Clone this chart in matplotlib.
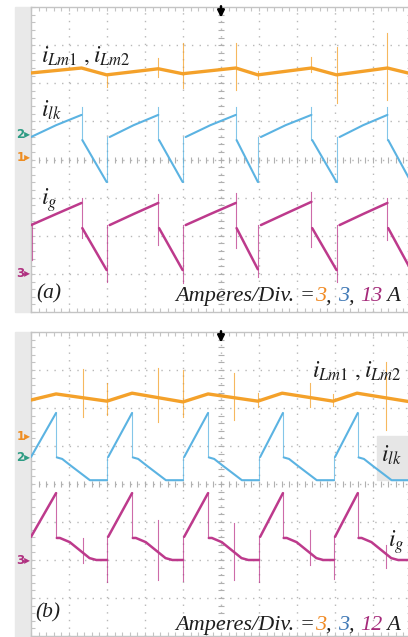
import numpy as np
import matplotlib
matplotlib.use("Agg")
import matplotlib.pyplot as plt
from matplotlib.patches import Rectangle

nan = np.nan
plt.rcParams["mathtext.fontset"] = "stix"

# Scope traces in screen divisions (x: 0..10 div, y: 0..8 div from bottom)
# ---- panel (a) ----
ilm_a_x = [0.0, 1.33, 1.99, 3.35, 3.99, 5.39, 5.97, 7.38, 8.04, 9.38, 10.0]
ilm_a_y = [6.27, 6.40, 6.22, 6.38, 6.25, 6.40, 6.22, 6.40, 6.22, 6.40, 6.25]
ilm_a_spikes = [(1.99, 5.90, 6.22), (3.35, 6.17, 6.67), (3.99, 5.88, 7.06),
                (5.39, 5.83, 7.06), (5.97, 6.12, 6.32), (7.38, 6.30, 6.69),
                (8.04, 5.49, 6.96), (9.38, 5.56, 7.32)]

ilk_a_x = [0.0, 0.66, 1.33, nan, 1.35, 1.99, nan,
           2.07, 2.70, 3.35, nan, 3.37, 3.99, nan,
           4.07, 4.72, 5.39, nan, 5.41, 5.97, nan,
           6.05, 6.70, 7.38, nan, 7.40, 8.04, nan,
           8.12, 8.74, 9.38, nan, 9.40, 10.0]
ilk_a_y = [4.59, 4.90, 5.17, nan, 4.51, 3.41, nan,
           4.59, 4.90, 5.17, nan, 4.51, 3.41, nan,
           4.59, 4.90, 5.17, nan, 4.51, 3.41, nan,
           4.59, 4.90, 5.17, nan, 4.51, 3.41, nan,
           4.59, 4.90, 5.17, nan, 4.51, 3.41]
ilk_a_edges = [(1.33, 4.51, 5.38), (1.99, 3.41, 4.59), (3.35, 4.51, 5.38),
               (3.99, 3.41, 4.59), (5.39, 4.51, 5.38), (5.97, 3.41, 4.59),
               (7.38, 4.51, 5.38), (8.04, 3.41, 4.59), (9.38, 4.51, 5.38)]

ig_a_x = ilk_a_x
ig_a_y = [2.28, 2.57, 2.86, nan, 2.20, 1.10, nan,
          2.28, 2.57, 2.86, nan, 2.20, 1.10, nan,
          2.28, 2.57, 2.86, nan, 2.20, 1.12, nan,
          2.28, 2.58, 2.89, nan, 2.20, 1.10, nan,
          2.28, 2.57, 2.86, nan, 2.20, 1.10]
ig_a_edges = [(0.02, 1.36, 2.30), (1.33, 1.95, 3.00), (1.99, 0.78, 2.28),
              (3.35, 1.75, 3.10), (3.99, 0.76, 2.28), (5.39, 1.68, 3.12),
              (5.97, 0.92, 2.28), (7.38, 1.70, 3.15), (8.04, 0.80, 2.28),
              (9.38, 1.90, 3.00)]

# ---- panel (b) ----
ilm_b_x = [0.0, 0.66, 2.0, 2.66, 4.0, 4.66, 5.97, 6.61, 7.95, 8.58, 10.0]
ilm_b_y = [6.21, 6.37, 6.18, 6.39, 6.16, 6.37, 6.18, 6.39, 6.18, 6.39, 6.16]
ilm_b_spikes = [(1.37, 5.76, 7.03), (2.0, 5.82, 6.66), (3.34, 5.63, 7.05),
                (4.0, 5.76, 7.00), (5.34, 5.68, 6.92), (5.97, 6.03, 6.39),
                (7.34, 6.03, 6.66), (7.95, 6.05, 6.37), (9.34, 5.42, 7.21)]

ilk_b_x = [0.0, 0.66, nan, 0.68, 0.82, 1.05, 1.55, 2.0, nan,
           2.03, 2.66, nan, 2.68, 2.82, 3.05, 3.55, 4.0, nan,
           4.03, 4.66, nan, 4.68, 4.82, 5.05, 5.55, 6.0, nan,
           6.03, 6.63, nan, 6.65, 6.79, 7.02, 7.52, 7.97, nan,
           8.0, 8.60, nan, 8.62, 8.76, 8.99, 9.49, 10.0]
ilk_b_y = [4.71, 5.87, nan, 4.70, 4.66, 4.48, 4.10, 4.10, nan,
           4.71, 5.87, nan, 4.70, 4.66, 4.48, 4.10, 4.10, nan,
           4.71, 5.87, nan, 4.70, 4.66, 4.48, 4.10, 4.10, nan,
           4.71, 5.87, nan, 4.70, 4.66, 4.48, 4.10, 4.10, nan,
           4.71, 5.87, nan, 4.70, 4.66, 4.48, 4.10, 4.10]
ilk_b_edges = [(0.66, 4.70, 5.87), (2.0, 4.10, 4.71), (2.66, 4.70, 5.87),
               (4.0, 4.10, 4.71), (4.66, 4.70, 5.87), (6.0, 4.10, 4.71),
               (6.63, 4.70, 5.87), (7.97, 4.10, 4.71), (8.60, 4.70, 5.87)]

ig_b_x = [0.0, 0.66, nan, 0.68, 0.76, 1.02, 1.54, 1.72, 2.0, nan,
          2.03, 2.66, nan, 2.68, 2.76, 3.02, 3.54, 3.72, 4.0, nan,
          4.03, 4.66, nan, 4.68, 4.76, 5.02, 5.54, 5.72, 6.0, nan,
          6.03, 6.63, nan, 6.65, 6.73, 6.99, 7.51, 7.69, 7.97, nan,
          8.0, 8.60, nan, 8.62, 8.70, 8.96, 9.48, 9.66, 10.0]
ig_b_y = [2.61, 3.76, nan, 2.58, 2.58, 2.47, 2.05, 2.00, 2.00, nan,
          2.61, 3.76, nan, 2.58, 2.58, 2.47, 2.05, 2.00, 2.00, nan,
          2.61, 3.76, nan, 2.58, 2.58, 2.47, 2.05, 2.00, 2.00, nan,
          2.61, 3.76, nan, 2.58, 2.58, 2.47, 2.05, 2.00, 2.00, nan,
          2.61, 3.76, nan, 2.58, 2.58, 2.47, 2.05, 2.00, 2.00]
ig_b_edges = [(0.66, 2.58, 3.76), (1.37, 1.92, 2.58), (2.0, 1.42, 2.61),
              (2.66, 2.58, 3.76), (3.34, 1.47, 3.05), (4.0, 1.45, 2.61),
              (4.66, 2.58, 3.76), (5.34, 1.47, 2.97), (6.0, 1.42, 2.61),
              (6.63, 2.58, 3.76), (7.34, 1.87, 2.79), (7.97, 1.50, 2.61),
              (8.60, 2.58, 3.76), (9.34, 1.80, 2.40)]

# channel ground markers (div) and scale settings
markers_a = [("1", 4.04), ("2", 4.65), ("3", 1.02)]
markers_b = [("1", 5.24), ("2", 4.71), ("3", 2.00)]
scales_a = ["3", "3", "13"]
scales_b = ["3", "3", "12"]

ORANGE = "#f4a12a"
BLUE = "#5bb3e2"
MAGENTA = "#bd3a8c"
MARK_COLORS = {"1": "#ee8d22", "2": "#2e9c84", "3": "#b03080"}
NUM_COLORS = ["#f08a24", "#3f78b5", "#a52a7a"]
TXT = "#1e1e1e"

W, H = 408, 637
fig = plt.figure(figsize=(W / 100, H / 100), dpi=100)
fig.patch.set_facecolor("white")


def px_rect(x0, y0, x1, y1, color):
    fig.patches.append(Rectangle((x0 / W, 1 - y1 / H), (x1 - x0) / W, (y1 - y0) / H,
                                 transform=fig.transFigure, color=color, zorder=-1))


def graticule(ax):
    ax.set_xlim(0, 10)
    ax.set_ylim(0, 8)
    ax.set_facecolor("white")
    for i in range(1, 10):
        ax.axvline(i, color="#b8b8b8", lw=1.0, ls=(0, (1, 4.5)), zorder=1)
    for j in range(1, 8):
        ax.axhline(j, color="#b8b8b8", lw=1.0, ls=(0, (1, 4.5)), zorder=1)
    ticks_y = np.arange(0.2, 8, 0.2)
    ticks_x = np.arange(0.2, 10, 0.2)
    ax.plot(np.full_like(ticks_y, 5), ticks_y, ls="none", marker="_", ms=4,
            color="#b0b0b0", mew=0.8, zorder=1)
    ax.plot(ticks_x, np.full_like(ticks_x, 4), ls="none", marker="|", ms=4,
            color="#b0b0b0", mew=0.8, zorder=1)
    for s in ax.spines.values():
        s.set_color("#c4c4c4")
        s.set_linewidth(1.0)
    ax.set_xticks(np.arange(0, 10.01, 0.2))
    ax.set_yticks(np.arange(0, 8.01, 0.2))
    ax.tick_params(direction="in", length=3, width=0.8, color="#c4c4c4",
                   top=True, right=True, labelbottom=False, labelleft=False)
    ax.annotate("", xy=(5, 7.72), xytext=(5, 8.02),
                arrowprops=dict(arrowstyle="-|>", color="black", lw=1.8,
                                mutation_scale=10, shrinkA=0, shrinkB=0),
                annotation_clip=False, zorder=6)


def trace(ax, x, y, edges, color, lw):
    for ex, y0, y1 in edges:
        ax.plot([ex, ex], [y0, y1], color=color, lw=0.8, alpha=0.75, zorder=3)
    ax.plot(x, y, color=color, lw=lw, solid_capstyle="round", zorder=4)


def ch_markers(ax, marks):
    for name, yv in marks:
        ax.text(-0.02, yv, name + "\u25B8", color=MARK_COLORS[name], fontsize=8.5,
                fontweight="bold", ha="right", va="center", clip_on=False, zorder=8)


def amps_text(ax, x, y, scales):
    pieces = [("Amperes/Div. =", TXT), (scales[0], NUM_COLORS[0]), (", ", TXT),
              (scales[1], NUM_COLORS[1]), (", ", TXT), (scales[2], NUM_COLORS[2]),
              (" A", TXT)]
    kw = dict(fontsize=16, family="Liberation Serif", style="italic")
    t = ax.text(x, y, pieces[0][0], color=pieces[0][1], va="baseline",
                clip_on=False, zorder=7, **kw)
    for s, c in pieces[1:]:
        t = ax.annotate(s, xy=(1, 0), xycoords=t, va="bottom", color=c,
                        annotation_clip=False, zorder=7, **kw)


lbl = dict(fontsize=17, color=TXT, zorder=7)

# background strips around the graticules
px_rect(15, 7, 31, 312, "#e9e9e9")
px_rect(15, 332, 31, 637, "#e9e9e9")

# ---------- panel (a) ----------
ax_a = fig.add_axes([31 / W, 1 - 312 / H, 380 / W, 305 / H])
graticule(ax_a)
trace(ax_a, ilm_a_x, ilm_a_y, ilm_a_spikes, ORANGE, 2.4)
trace(ax_a, ilk_a_x, ilk_a_y, ilk_a_edges, BLUE, 1.5)
trace(ax_a, ig_a_x, ig_a_y, ig_a_edges, MAGENTA, 1.8)
ch_markers(ax_a, markers_a)
ax_a.text(0.27, 6.75, r"$i_{Lm1}\ ,i_{Lm2}$", va="center", **lbl)
ax_a.text(0.27, 5.30, r"$i_{lk}$", va="center", **lbl)
ax_a.text(0.27, 2.94, r"$i_{g}$", va="center", **lbl)
ax_a.text(0.14, 0.47, "(a)", fontsize=15.5, family="Liberation Serif", style="italic",
          color=TXT, va="center", zorder=7)
amps_text(ax_a, 3.8, 0.28, scales_a)

# ---------- panel (b) ----------
ax_b = fig.add_axes([31 / W, 1 - 636 / H, 380 / W, 304 / H])
graticule(ax_b)
ax_b.add_patch(Rectangle((9.1, 4.1), 0.9, 1.16, color="#e6e6e6", zorder=2))
trace(ax_b, ilm_b_x, ilm_b_y, ilm_b_spikes, ORANGE, 2.4)
trace(ax_b, ilk_b_x, ilk_b_y, ilk_b_edges, BLUE, 1.5)
trace(ax_b, ig_b_x, ig_b_y, ig_b_edges, MAGENTA, 1.8)
ch_markers(ax_b, markers_b)
ax_b.text(7.4, 7.0, r"$i_{Lm1}\ ,i_{Lm2}$", va="center", clip_on=True, **lbl)
ax_b.text(9.2, 4.76, r"$i_{lk}$", va="center", clip_on=True, **lbl)
ax_b.text(9.4, 2.47, r"$i_{g}$", va="center", clip_on=True, **lbl)
ax_b.text(0.10, 0.60, "(b)", fontsize=15.5, family="Liberation Serif", style="italic",
          color=TXT, va="center", zorder=7)
amps_text(ax_b, 3.8, 0.16, scales_b)

fig.savefig("out.png", dpi=100)
